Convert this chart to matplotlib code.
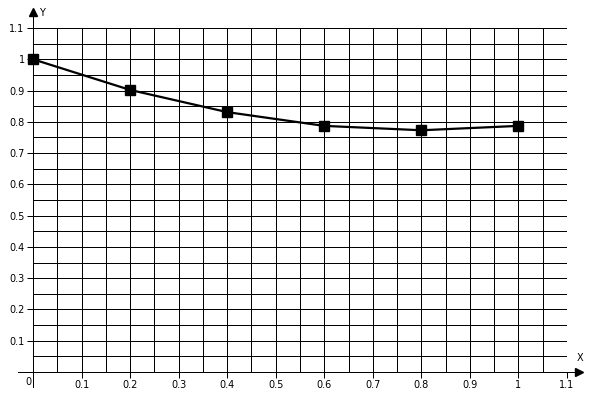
import matplotlib
matplotlib.use("Agg")
import matplotlib.pyplot as plt
import numpy as np

x_vals = [0.0, 0.2, 0.4, 0.6, 0.8, 1.0]
y_vals = [1.0, 0.902, 0.831, 0.787, 0.773, 0.787]

x_ticks = [0.1, 0.2, 0.3, 0.4, 0.5, 0.6, 0.7, 0.8, 0.9, 1.0, 1.1]
x_tick_labels = ["0.1", "0.2", "0.3", "0.4", "0.5", "0.6", "0.7", "0.8", "0.9", "1", "1.1"]
y_ticks = [0.1, 0.2, 0.3, 0.4, 0.5, 0.6, 0.7, 0.8, 0.9, 1.0, 1.1]
y_tick_labels = ["0.1", "0.2", "0.3", "0.4", "0.5", "0.6", "0.7", "0.8", "0.9", "1", "1.1"]
grid_step = 0.05

fig = plt.figure(figsize=(6, 4), dpi=100)
ax = fig.add_axes([33/600, 1-372/400, (567-33)/600, (372-28)/400])
ax.set_xlim(0, 1.1)
ax.set_ylim(0, 1.1)

# grid
for g in np.arange(grid_step, 1.1 + 1e-9, grid_step):
    ax.axvline(g, color="black", lw=0.72, zorder=1, antialiased=False)
    ax.axhline(g, color="black", lw=0.72, zorder=1, antialiased=False)

for s in ax.spines.values():
    s.set_visible(False)

ax.set_xticks(x_ticks)
ax.set_xticklabels(x_tick_labels)
ax.set_yticks(y_ticks)
ax.set_yticklabels(y_tick_labels)
ax.tick_params(axis="both", length=4, width=0.72, color="black", labelsize=7, pad=2)

# axes with arrows
ax.plot([0, 0], [-0.048, 1.14], color="black", lw=0.72, clip_on=False, zorder=3, antialiased=False)
ax.plot([-0.031, 1.115], [0, 0], color="black", lw=0.72, clip_on=False, zorder=3, antialiased=False)
ax.plot([0], [1.152], marker="^", color="black", ms=6, clip_on=False, zorder=4)
ax.plot([1.125], [0], marker=">", color="black", ms=6, clip_on=False, zorder=4)
ax.text(0.012, 1.148, "Y", fontsize=7, va="center", ha="left", clip_on=False)
ax.text(1.12, 0.045, "X", fontsize=7, va="center", ha="left", clip_on=False)
ax.text(-0.003, -0.015, "0", fontsize=7, va="top", ha="right", clip_on=False)

# data
ax.plot(x_vals, y_vals, color="black", lw=1.6, marker="s", ms=7, zorder=5, clip_on=False)

fig.savefig("out.png", dpi=100, facecolor="white")
